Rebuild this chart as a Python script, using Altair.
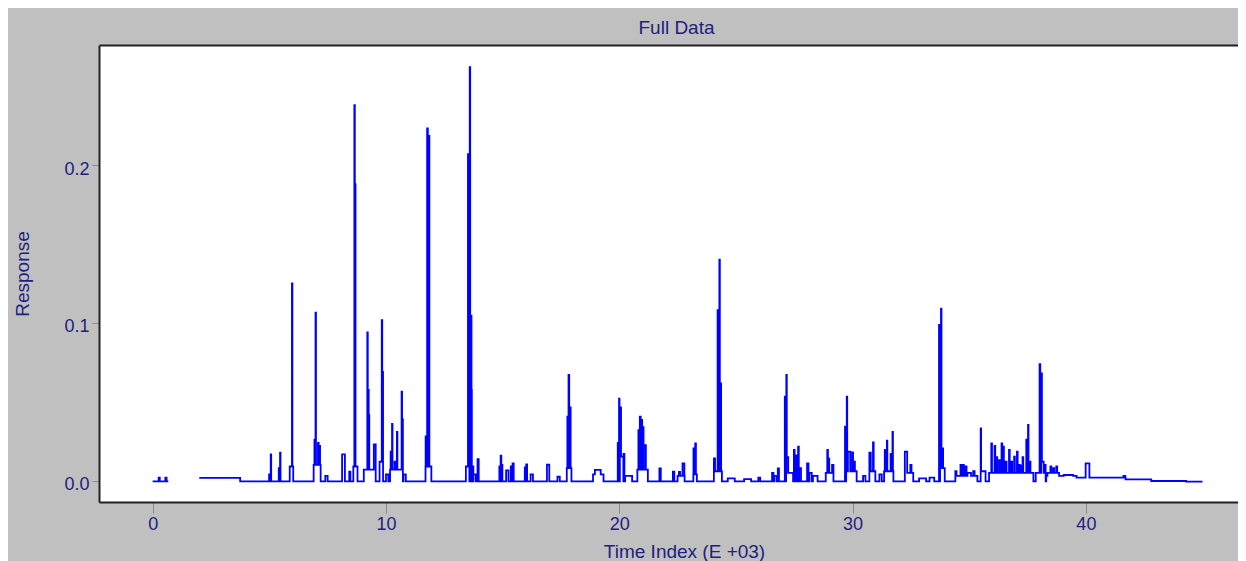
import altair as alt
import pandas as pd

# ---- values (time in thousands) ----
peak_time = [
    0.28, 0.57,
    5.02, 5.07, 5.43, 5.47, 5.95, 5.98,
    6.95, 6.99, 7.05, 7.10, 7.16, 7.45,
    8.18, 8.45, 8.69, 8.67, 8.655,
    9.30, 9.21, 9.245, 9.27, 9.52, 9.80, 9.83, 9.855, 10.05,
    10.45, 10.22, 10.27, 10.40, 10.48, 10.68, 10.71, 10.80,
    11.82, 11.72, 11.78, 11.845,
    13.50, 13.53, 13.60, 13.655, 13.665, 13.72, 13.80, 13.95,
    14.88, 14.93, 14.97, 15.20, 15.37, 15.45, 15.97, 16.03, 16.25,
    16.95, 17.40, 17.85, 17.79, 17.84, 17.90,
    19.10, 19.08,
    19.95, 20.00, 20.06, 20.10, 20.20, 20.40,
    21.00, 20.84, 20.90, 20.96, 21.02, 21.10,
    21.75, 22.33, 22.65, 22.58, 22.75, 23.25, 23.20, 23.27,
    24.25, 24.08, 24.23, 24.30, 24.35, 24.80, 25.50, 26.00,
    26.58, 26.70, 26.82, 27.30, 27.11, 27.17, 27.20,
    27.50, 27.58, 27.68, 27.75, 28.08, 28.20, 28.40,
    29.00, 28.93, 28.98, 29.15,
    29.95, 29.69, 29.76, 29.85, 30.00, 30.07, 30.50,
    30.85, 30.75, 30.89, 31.20,
    31.55, 31.40, 31.48, 31.65, 31.72,
    32.45, 32.29, 32.50, 33.00, 33.40,
    33.85, 33.72, 33.80, 33.86,
    34.90, 34.43, 34.65, 34.75, 34.86, 35.00, 35.20,
    35.50, 35.60,
    36.80, 35.96, 36.10, 36.18, 36.30, 36.40, 36.47, 36.58, 36.72, 36.82,
    36.94, 37.06, 37.15, 37.24, 37.30, 37.46, 37.53, 37.60,
    38.05, 38.03, 38.10, 38.15, 38.25,
    38.60, 38.50, 38.62, 38.75, 39.25,
    40.07, 41.65,
]
peak_height = [
    0.002, 0.002,
    0.004, 0.0167, 0.008, 0.0178, 0.009, 0.125,
    0.026, 0.1065, 0.010, 0.024, 0.022, 0.003,
    0.0167, 0.0057, 0.009, 0.188, 0.238,
    0.007, 0.094, 0.0575, 0.0416, 0.023, 0.012, 0.1018, 0.069, 0.004,
    0.007, 0.0184, 0.036, 0.012, 0.031, 0.0564, 0.039, 0.004,
    0.009, 0.028, 0.2233, 0.2185,
    0.009, 0.207, 0.262, 0.1046, 0.0576, 0.009, 0.004, 0.0137,
    0.009, 0.0159, 0.010, 0.0065, 0.009, 0.011, 0.0085, 0.0104, 0.004,
    0.0101, 0.0025, 0.008, 0.0406, 0.067, 0.0465,
    0.004, 0.0068,
    0.024, 0.052, 0.0465, 0.0152, 0.017, 0.003,
    0.007, 0.032, 0.0406, 0.0385, 0.034, 0.0226,
    0.0078, 0.0057, 0.003, 0.0055, 0.011, 0.004, 0.0205, 0.0237,
    0.006, 0.0142, 0.108, 0.140, 0.0617, 0.0015, 0.001, 0.002,
    0.005, 0.003, 0.0078, 0.005, 0.0532, 0.067, 0.015,
    0.0195, 0.016, 0.0216, 0.008, 0.011, 0.005, 0.003,
    0.005, 0.0195, 0.014, 0.010,
    0.006, 0.0342, 0.0532, 0.0184, 0.018, 0.012, 0.003,
    0.006, 0.0178, 0.0243, 0.004,
    0.006, 0.0195, 0.0254, 0.017, 0.031,
    0.005, 0.0184, 0.010, 0.0015, 0.002,
    0.008, 0.0987, 0.109, 0.0205,
    0.003, 0.006, 0.010, 0.010, 0.009, 0.005, 0.006,
    0.0332, 0.006,
    0.005, 0.0237, 0.022, 0.015, 0.013, 0.0237, 0.0216, 0.012, 0.0195, 0.012,
    0.0152, 0.0184, 0.010, 0.0095, 0.015, 0.026, 0.0353, 0.012,
    0.005, 0.0738, 0.068, 0.012, 0.010,
    0.005, 0.009, 0.008, 0.009, 0.0036,
    0.011, 0.003,
]
peak_width = [
    0.05, 0.05,
    0.06, 0.02, 0.05, 0.02, 0.15, 0.02,
    0.03, 0.02, 0.30, 0.03, 0.03, 0.10,
    0.12, 0.05, 0.18, 0.05, 0.02,
    0.50, 0.02, 0.03, 0.03, 0.08, 0.15, 0.02, 0.04, 0.10,
    0.55, 0.04, 0.02, 0.06, 0.02, 0.02, 0.03, 0.10,
    0.25, 0.04, 0.03, 0.03,
    0.15, 0.03, 0.02, 0.02, 0.03, 0.05, 0.10, 0.05,
    0.04, 0.03, 0.04, 0.10, 0.04, 0.05, 0.04, 0.04, 0.10,
    0.10, 0.10, 0.20, 0.03, 0.03, 0.03,
    0.45, 0.25,
    0.03, 0.02, 0.03, 0.15, 0.04, 0.30,
    0.45, 0.04, 0.04, 0.04, 0.04, 0.08,
    0.06, 0.06, 0.30, 0.05, 0.08, 0.15, 0.04, 0.03,
    0.30, 0.05, 0.03, 0.02, 0.03, 0.30, 0.30, 0.08,
    0.06, 0.10, 0.05, 0.30, 0.03, 0.02, 0.08,
    0.03, 0.04, 0.03, 0.08, 0.06, 0.10, 0.20,
    0.30, 0.03, 0.04, 0.06,
    0.45, 0.03, 0.02, 0.10, 0.04, 0.06, 0.10,
    0.25, 0.06, 0.03, 0.10,
    0.40, 0.04, 0.02, 0.04, 0.02,
    0.30, 0.10, 0.05, 0.30, 0.20,
    0.20, 0.03, 0.02, 0.04,
    0.90, 0.05, 0.05, 0.04, 0.05, 0.15, 0.06,
    0.02, 0.20,
    1.90, 0.03, 0.03, 0.04, 0.04, 0.03, 0.03, 0.04, 0.03, 0.04,
    0.03, 0.03, 0.04, 0.03, 0.03, 0.03, 0.02, 0.05,
    0.40, 0.03, 0.03, 0.08, 0.05,
    0.50, 0.04, 0.04, 0.04, 0.40,
    0.16, 0.08,
]

base_start = [0.0, 2.0, 3.75, 38.3, 39.6, 41.7, 42.8, 44.3]
base_level = [-0.0004, 0.0018, -0.0004, 0.003, 0.002, 0.0009, -0.0002, -0.0006]

segment_start = [0.0, 2.0]
segment_end = [0.67, 45.0]

x_ticks = [0, 10, 20, 30, 40]
y_ticks = [0.0, 0.1, 0.2]


def base_at(t):
    lvl = base_level[0]
    for s, l in zip(base_start, base_level):
        if t >= s:
            lvl = l
    return lvl


def value_at(t):
    v = base_at(t)
    for pt, ph, pw in zip(peak_time, peak_height, peak_width):
        if pt - pw / 2 <= t < pt + pw / 2:
            v = max(v, ph)
    return v


edges_all = set()
for pt, pw in zip(peak_time, peak_width):
    edges_all.add(round(pt - pw / 2, 6))
    edges_all.add(round(pt + pw / 2, 6))
for s in base_start:
    edges_all.add(round(s, 6))

rows = []
eps = 1e-7
for seg, (a, b) in enumerate(zip(segment_start, segment_end)):
    edges = sorted(e for e in edges_all if a < e < b)
    rows.append({"seg": seg, "t": a, "r": value_at(a + eps)})
    for e in edges:
        lv = value_at(e - eps)
        rv = value_at(e + eps)
        rows.append({"seg": seg, "t": e, "r": lv})
        if rv != lv:
            rows.append({"seg": seg, "t": e, "r": rv})
    rows.append({"seg": seg, "t": b, "r": value_at(b - eps)})

df = pd.DataFrame(rows)
df["i"] = range(len(df))

TEXT = "#202080"
FONT = "Liberation Sans"
BORDER = "#222222"

x_scale = alt.Scale(domain=[-2.30, 46.52], nice=False, zero=False)
y_scale = alt.Scale(domain=[-0.0135, 0.2761], nice=False, zero=False)

base = alt.Chart(df).encode(detail="seg:N", order="i:Q")

main = base.mark_line(color="#0000ff", strokeWidth=1.8, clip=True).encode(
    x=alt.X(
        "t:Q", scale=x_scale,
        axis=alt.Axis(
            values=x_ticks, format="d", title="Time Index (E +03)", grid=False,
            domain=True, domainColor=BORDER, domainWidth=2,
            tickSize=11, tickColor="#8a8a8a", labelPadding=2,
            titleX=585, titleY=40, titleBaseline="top",
        ),
    ),
    y=alt.Y(
        "r:Q", scale=y_scale,
        axis=alt.Axis(
            values=y_ticks, format=".1f", title="Response", grid=False,
            domain=True, domainColor=BORDER, domainWidth=2,
            tickSize=7, tickColor="#8a8a8a", labelPadding=3,
            labelOffset=4, titleX=-77, titleBaseline="middle",
        ),
    ),
)

top_edge = base.mark_line(opacity=0).encode(
    x=alt.X(
        "t:Q", scale=x_scale,
        axis=alt.Axis(
            orient="top", labels=False, ticks=False, title="", grid=False,
            domain=True, domainColor=BORDER, domainWidth=2,
        ),
    ),
    y=alt.Y("r:Q", scale=y_scale, axis=None),
)

chart = alt.layer(main, top_edge).resolve_axis(
    x="independent", y="independent"
).properties(
    width=1139,
    height=457,
    title=alt.TitleParams(
        text="Full Data", font=FONT, fontSize=19, fontWeight="normal",
        color=TEXT, anchor="middle", offset=7, dx=8,
    ),
    padding={"left": 91, "top": 37, "right": 0, "bottom": 59},
    autosize=alt.AutoSizeParams(type="none"),
    background="#c0c0c0",
).configure_view(
    fill="white", strokeWidth=0
).configure_axis(
    labelFont=FONT, labelFontSize=18, labelColor=TEXT,
    titleFont=FONT, titleFontSize=19, titleColor=TEXT, titleFontWeight="normal",
)

chart.save("out.html", embed_options={"renderer": "svg", "actions": False})
